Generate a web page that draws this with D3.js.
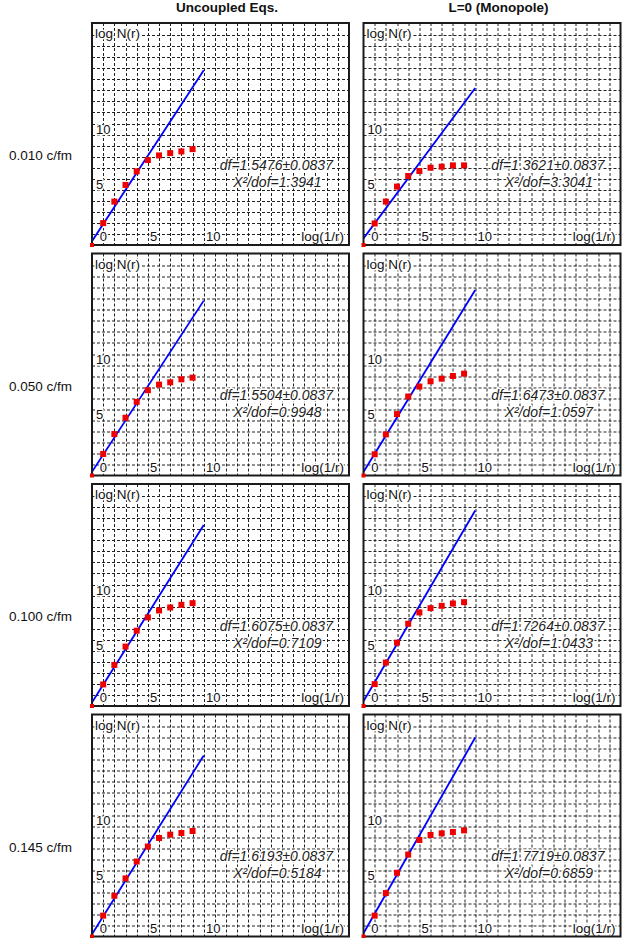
<!DOCTYPE html>
<html><head><meta charset="utf-8">
<script src="https://cdn.jsdelivr.net/npm/d3@7/dist/d3.min.js"></script>
<style>
html,body{margin:0;padding:0;background:#fff;}
svg{display:block;font-family:Arial,"Liberation Sans",sans-serif;}
.halo{paint-order:stroke;stroke:#fff;stroke-width:3px;stroke-linejoin:round;}
</style></head>
<body><svg id="c" width="629" height="938"></svg>
<script>
// ---------- data ----------
const columnTitles = ["Uncoupled Eqs.", "L=0 (Monopole)"];
const rowLabels = ["0.010 c/fm", "0.050 c/fm", "0.100 c/fm", "0.145 c/fm"];
const xValues = [0, 1, 2, 3, 4, 5, 6, 7, 8, 9];
const uncoupled010 = [0, 1.98, 3.93, 5.44, 6.67, 7.69, 8.11, 8.32, 8.47, 8.68];
const monopole010  = [0, 1.95, 3.93, 5.29, 6.25, 6.70, 7.00, 7.09, 7.21, 7.21];
const uncoupled050 = [0, 1.95, 3.75, 5.23, 6.67, 7.72, 8.23, 8.44, 8.71, 8.86];
const monopole050  = [0, 1.92, 3.72, 5.56, 7.15, 8.05, 8.53, 8.77, 9.01, 9.22];
const uncoupled100 = [0, 1.95, 3.72, 5.38, 6.82, 8.02, 8.65, 8.92, 9.16, 9.31];
const monopole100  = [0, 1.98, 3.93, 5.74, 7.45, 8.47, 8.86, 9.07, 9.28, 9.40];
const uncoupled145 = [0, 1.89, 3.69, 5.26, 6.79, 8.14, 8.92, 9.22, 9.37, 9.55];
const monopole145  = [0, 1.89, 3.93, 5.77, 7.42, 8.74, 9.19, 9.34, 9.46, 9.61];
const dfValues   = [[1.5476, 1.3621], [1.5504, 1.6473], [1.6075, 1.7264], [1.6193, 1.7719]];
const dfError    = 0.0837;
const chi2Values = [[1.3941, 3.3041], [0.9948, 1.0597], [0.7109, 1.0433], [0.5184, 0.6859]];
const intercepts = [[0.35, 0.6], [0.33, 0.32], [0.32, 0.43], [0.2, 0.3]];
const fitRange = [0, 10];
const xTicks = [0, 5, 10];
const yTicks = [5, 10];
const xLabel = "log(1/r)";
const yLabel = "log N(r)";

const series = [
  [uncoupled010, monopole010],
  [uncoupled050, monopole050],
  [uncoupled100, monopole100],
  [uncoupled145, monopole145]
];

// ---------- layout ----------
const svg = d3.select("#c");
const colX = [92, 363.5];
const panelW = 257;
const rowTop = 23, rowPitch = 230.5, panelH = 222;
const xDomain = [0, 23], yDomain = [0, 20.1];

// headers
columnTitles.forEach((t, j) => {
  svg.append("text").attr("x", colX[j] + 135).attr("y", 12)
    .attr("text-anchor", "middle").attr("font-weight", "bold")
    .attr("font-size", 13.5).attr("fill", "#111").text(t);
});
rowLabels.forEach((t, i) => {
  svg.append("text").attr("x", 9).attr("y", rowTop + i * rowPitch + 137)
    .attr("font-size", 13.5).attr("fill", "#111").text(t);
});

for (let i = 0; i < 4; i++) {
  for (let j = 0; j < 2; j++) {
    const g = svg.append("g").attr("transform", `translate(${colX[j]},${rowTop + i * rowPitch})`);
    const x = d3.scaleLinear().domain(xDomain).range([0, panelW]);
    const y = d3.scaleLinear().domain(yDomain).range([panelH, 0]);
    const cid = `clip${i}${j}`;
    g.append("clipPath").attr("id", cid).append("rect")
      .attr("width", panelW).attr("height", panelH);

    g.append("rect").attr("width", panelW).attr("height", panelH).attr("fill", "#fff");

    // grid
    const grid = g.append("g").attr("stroke", "#222").attr("stroke-width", 1)
      .attr("stroke-dasharray", "3,2");
    grid.selectAll("line.v").data(d3.range(1, 23)).join("line")
      .attr("x1", d => Math.round(x(d)) + 0.5).attr("x2", d => Math.round(x(d)) + 0.5)
      .attr("y1", 0).attr("y2", panelH);
    grid.selectAll("line.h").data(d3.range(1, 20)).join("line")
      .attr("y1", d => Math.round(y(d)) + 0.5).attr("y2", d => Math.round(y(d)) + 0.5)
      .attr("x1", 0).attr("x2", panelW);

    // labels
    g.selectAll("text.xt").data(xTicks).join("text").attr("class", "halo")
      .attr("x", d => x(Math.max(d, 0) + (d === 0 ? 0.7 : 0.2)))
      .attr("y", panelH - 4).attr("font-size", 13).attr("fill", "#111")
      .text(d => d);
    g.selectAll("text.yt").data(yTicks).join("text").attr("class", "halo")
      .attr("x", 4).attr("y", d => y(d) - 1).attr("font-size", 13).attr("fill", "#111")
      .text(d => d);
    g.append("text").attr("class", "halo").attr("x", 3).attr("y", 15).attr("font-size", 13.5)
      .attr("fill", "#111").text(yLabel);
    g.append("text").attr("class", "halo").attr("x", panelW - 5).attr("y", panelH - 4).attr("font-size", 13.5)
      .attr("text-anchor", "end").attr("fill", "#111").text(xLabel);

    // annotation
    const ax = x(16.5);
    g.append("text").attr("class", "halo").attr("x", ax).attr("y", y(6.8)).attr("text-anchor", "middle")
      .attr("font-size", 14).attr("font-style", "italic").attr("fill", "#222")
      .text(`df=${dfValues[i][j].toFixed(4)}±${dfError.toFixed(4)}`);
    g.append("text").attr("class", "halo").attr("x", ax + 1).attr("y", y(5.27)).attr("text-anchor", "middle")
      .attr("font-size", 14).attr("font-style", "italic").attr("fill", "#222")
      .text(`X²/dof=${chi2Values[i][j].toFixed(4)}`);

    // fit line
    const df = dfValues[i][j], b = intercepts[i][j];
    const line = d3.line().x(d => x(d)).y(d => y(b + df * d));
    g.append("path").datum(fitRange).attr("clip-path", `url(#${cid})`)
      .attr("d", line).attr("fill", "none").attr("stroke", "#0000ff").attr("stroke-width", 1.8);

    // points
    const pts = xValues.map((xv, k) => ({x: xv, y: series[i][j][k]})).filter(d => d.x > 0);
    g.selectAll("rect.pt").data(pts).join("rect")
      .attr("x", d => x(d.x) - 3).attr("y", d => y(d.y) - 3)
      .attr("width", 6).attr("height", 6).attr("fill", "#ee0000");

    // frame
    g.append("rect").attr("width", panelW).attr("height", panelH)
      .attr("fill", "none").attr("stroke", "#1a1a1a").attr("stroke-width", 2);

    // origin point (drawn over frame)
    const origin = xValues.map((xv, k) => ({x: xv, y: series[i][j][k]})).filter(d => d.x === 0);
    g.selectAll("rect.o").data(origin).join("rect")
      .attr("x", d => x(d.x) - 2).attr("y", d => y(d.y) - 2)
      .attr("width", 4).attr("height", 4).attr("fill", "#ee0000");
  }
}
</script></body></html>
